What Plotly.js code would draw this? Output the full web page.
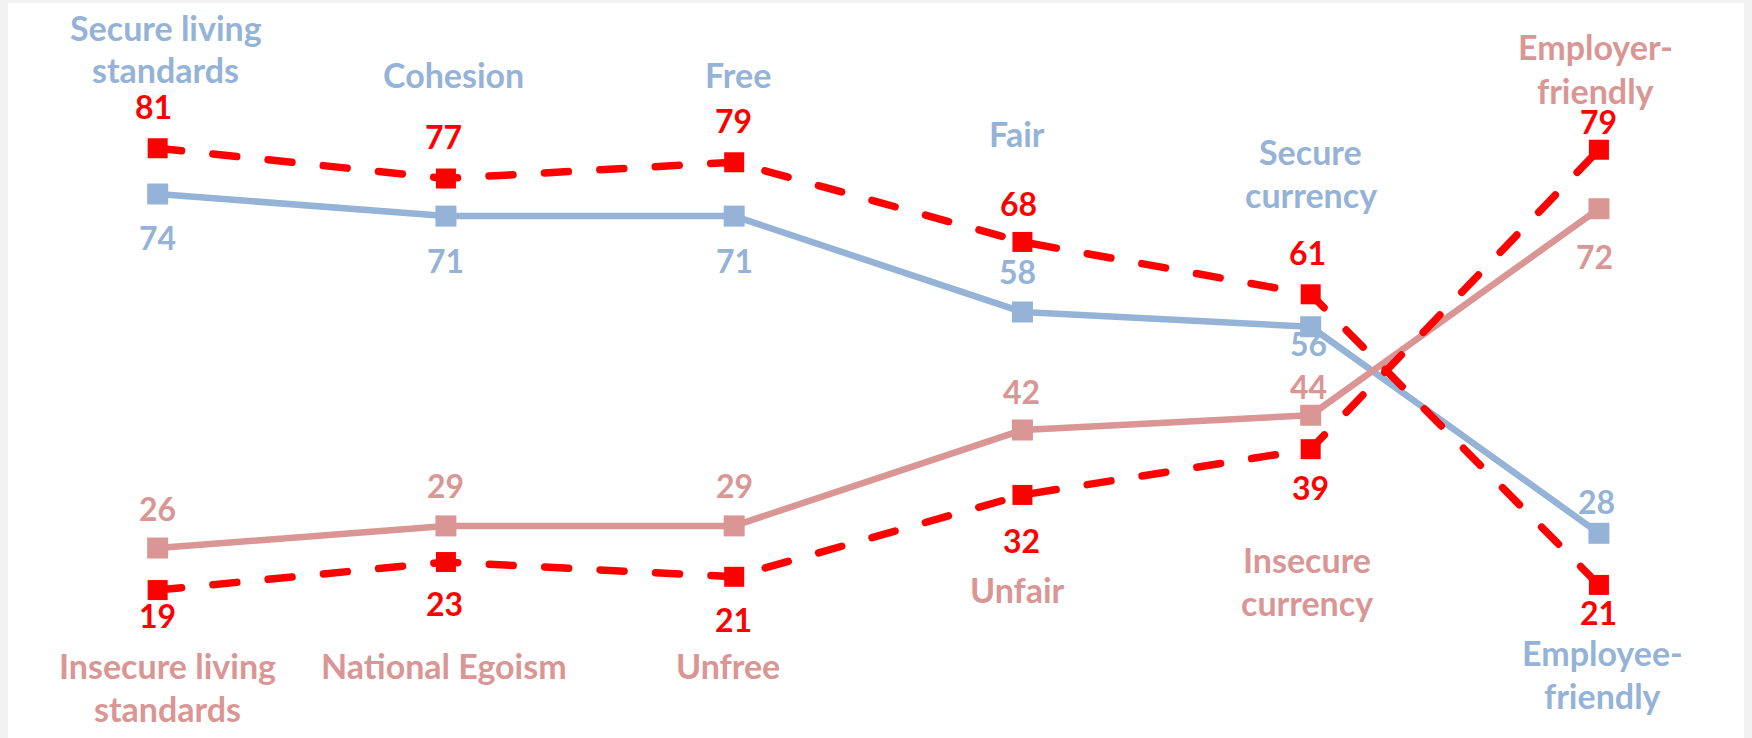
<!DOCTYPE html>
<html>
<head>
<meta charset="utf-8">
<script src="https://cdn.plot.ly/plotly-3.0.1.min.js"></script>
<style>
  html, body { margin: 0; padding: 0; background: #ffffff; }
  #chart { width: 1752px; height: 738px; }
  #chart path.js-line { stroke-linecap: round; stroke-linejoin: round; }
</style>
</head>
<body>
<div id="chart"></div>
<script>
// ---- data ----
const categoryIndex = [0, 1, 2, 3, 4, 5];
const positiveLabels = ['Secure living<br>standards', 'Cohesion', 'Free', 'Fair', 'Secure<br>currency', 'Employee-<br>friendly'];
const negativeLabels = ['Insecure living<br>standards', 'National Egoism', 'Unfree', 'Unfair', 'Insecure<br>currency', 'Employer-<br>friendly'];
const positiveValues = [74, 71, 71, 58, 56, 28];
const negativeValues = [26, 29, 29, 42, 44, 72];
const redAValues = [80.2, 76.1, 78.3, 67.5, 60.4, 21.0];
const redBValues = [20.3, 24.1, 22.1, 33.2, 39.4, 80.0];
const redALabels = [81, 77, 79, 68, 61, 21];
const redBLabels = [19, 23, 21, 32, 39, 79];

// ---- styles ----
const BLUE = '#95B3D7', PINK = '#D99694', RED = '#FF0000';
const FONT = 'Lato, "Open Sans", sans-serif';
const FS_NUM = 32, FS_TXT = 34, LINE_GAP = 43;

// value label offsets (pixels): [xshift, yshift]
const blueValShift = [[0,-44],[0,-44],[0,-44],[-5,41],[-2,-17],[-2,32]];
const pinkValShift = [[0,40],[0,40],[0,40],[-1,39],[-2,29],[-4,-48]];
const redAShift    = [[-4,42],[-2,42],[-1,42],[-4,38],[-3,42],[0,-28]];
const redBShift    = [[0,-25],[-1,-41],[-1,-43],[-1,-46],[0,-38],[0,28]];
// category label positions: [xshift from category, y pixel of first line centre]
const posLabelPos = [[8,27],[8,75],[4,75],[-5,133],[0,151],[4,652]];
const negLabelPos = [[10,665],[-2,665],[-6,665],[-5,589],[-4,559],[-3,47]];

const H = 738;

const traces = [
  { x: categoryIndex, y: positiveValues, type: 'scatter', mode: 'lines+markers',
    line: { color: BLUE, width: 6.5 }, marker: { symbol: 'square', size: 21, color: BLUE },
    hoverinfo: 'skip' },
  { x: categoryIndex, y: negativeValues, type: 'scatter', mode: 'lines+markers',
    line: { color: PINK, width: 6.5 }, marker: { symbol: 'square', size: 21, color: PINK },
    hoverinfo: 'skip' },
  { x: categoryIndex, y: redAValues, type: 'scatter', mode: 'lines+markers',
    line: { color: RED, width: 7.5, dash: '24px,31.5px' }, marker: { symbol: 'square', size: 20, color: RED },
    hoverinfo: 'skip' },
  { x: categoryIndex, y: redBValues, type: 'scatter', mode: 'lines+markers',
    line: { color: RED, width: 7.5, dash: '24px,31.5px' }, marker: { symbol: 'square', size: 20, color: RED },
    hoverinfo: 'skip' }
];

const annotations = [];
function valueLabels(vals, texts, shifts, color) {
  vals.forEach((v, i) => {
    annotations.push({ x: categoryIndex[i], y: v, xref: 'x', yref: 'y', text: String(texts[i]),
      showarrow: false, xshift: shifts[i][0], yshift: shifts[i][1],
      xanchor: 'center', yanchor: 'middle',
      font: { family: FONT, size: FS_NUM, color: color, weight: 700 } });
  });
}
valueLabels(positiveValues, positiveValues, blueValShift, BLUE);
valueLabels(negativeValues, negativeValues, pinkValShift, PINK);
valueLabels(redAValues, redALabels, redAShift, RED);
valueLabels(redBValues, redBLabels, redBShift, RED);

function catLabels(texts, pos, color) {
  texts.forEach((t, i) => {
    t.split('<br>').forEach((line, k) => {
      annotations.push({ x: categoryIndex[i], y: 1 - (pos[i][1] + k * LINE_GAP) / H, xref: 'x', yref: 'paper',
        text: line, showarrow: false, xshift: pos[i][0], xanchor: 'center', yanchor: 'middle', align: 'center',
        font: { family: FONT, size: FS_TXT, color: color, weight: 700 } });
    });
  });
}
catLabels(positiveLabels, posLabelPos, BLUE);
catLabels(negativeLabels, negLabelPos, PINK);

const layout = {
  width: 1752, height: 738,
  margin: { l: 0, r: 0, t: 0, b: 0 },
  paper_bgcolor: '#ffffff', plot_bgcolor: '#ffffff',
  showlegend: false,
  xaxis: { range: [-0.547, 5.531], visible: false, fixedrange: true },
  yaxis: { range: [0.244, 100.3], visible: false, fixedrange: true },
  annotations: annotations,
  shapes: [
    { type: 'rect', xref: 'paper', yref: 'paper', x0: 0, x1: 8/1752, y0: 0, y1: 1, fillcolor: '#f2f2f2', line: { width: 0 }, layer: 'below' },
    { type: 'rect', xref: 'paper', yref: 'paper', x0: 1744/1752, x1: 1, y0: 0, y1: 1, fillcolor: '#f2f2f2', line: { width: 0 }, layer: 'below' },
    { type: 'rect', xref: 'paper', yref: 'paper', x0: 0, x1: 1, y0: 1 - 3/738, y1: 1, fillcolor: '#f2f2f2', line: { width: 0 }, layer: 'below' }
  ]
};

Plotly.newPlot('chart', traces, layout, { displayModeBar: false, staticPlot: true });
</script>
</body>
</html>
